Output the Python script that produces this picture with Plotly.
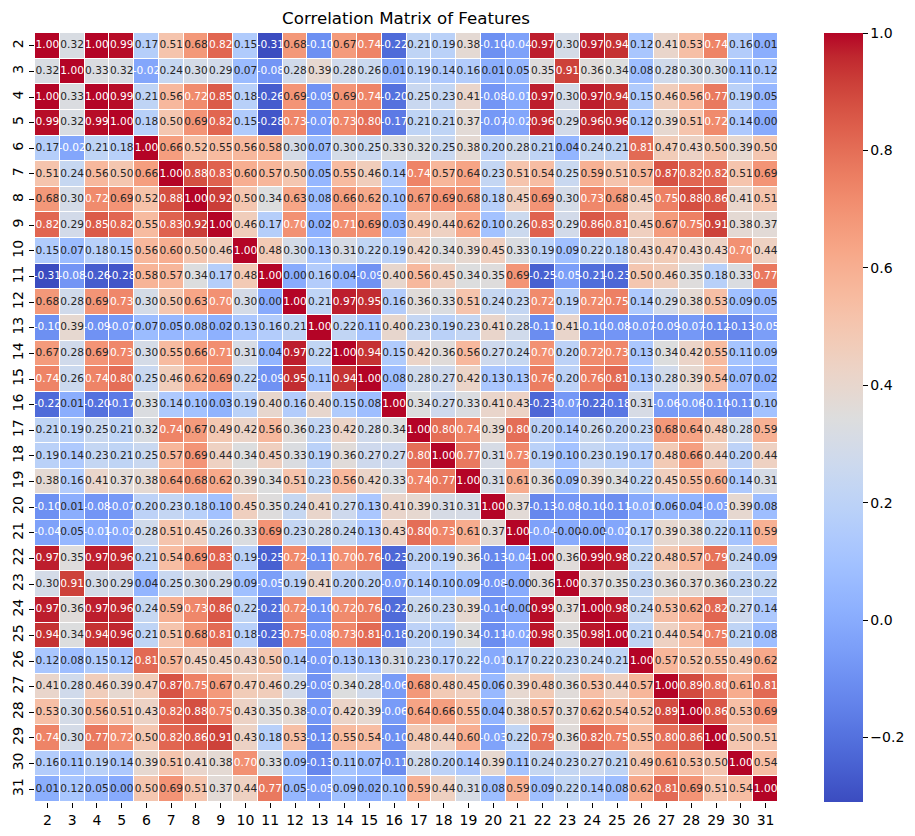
import plotly.graph_objects as go

# Feature ids on both axes
features = [str(i) for i in range(2, 32)]
cbar_ticks = [-0.2, 0.0, 0.2, 0.4, 0.6, 0.8, 1.0]

# Upper triangle of the correlation matrix, one row per feature, starting at the diagonal
upper_rows = [
    [1.00, 0.32, 1.00, 0.99, 0.17, 0.51, 0.68, 0.82, 0.15, -0.31, 0.68, -0.10, 0.67, 0.74, -0.22, 0.21, 0.19, 0.38, -0.10, -0.04, 0.97, 0.30, 0.97, 0.94, 0.12, 0.41, 0.53, 0.74, 0.16, 0.01],
    [1.00, 0.33, 0.32, -0.02, 0.24, 0.30, 0.29, 0.07, -0.08, 0.28, 0.39, 0.28, 0.26, 0.01, 0.19, 0.14, 0.16, 0.01, 0.05, 0.35, 0.91, 0.36, 0.34, 0.08, 0.28, 0.30, 0.30, 0.11, 0.12],
    [1.00, 0.99, 0.21, 0.56, 0.72, 0.85, 0.18, -0.26, 0.69, -0.09, 0.69, 0.74, -0.20, 0.25, 0.23, 0.41, -0.08, -0.01, 0.97, 0.30, 0.97, 0.94, 0.15, 0.46, 0.56, 0.77, 0.19, 0.05],
    [1.00, 0.18, 0.50, 0.69, 0.82, 0.15, -0.28, 0.73, -0.07, 0.73, 0.80, -0.17, 0.21, 0.21, 0.37, -0.07, -0.02, 0.96, 0.29, 0.96, 0.96, 0.12, 0.39, 0.51, 0.72, 0.14, 0.00],
    [1.00, 0.66, 0.52, 0.55, 0.56, 0.58, 0.30, 0.07, 0.30, 0.25, 0.33, 0.32, 0.25, 0.38, 0.20, 0.28, 0.21, 0.04, 0.24, 0.21, 0.81, 0.47, 0.43, 0.50, 0.39, 0.50],
    [1.00, 0.88, 0.83, 0.60, 0.57, 0.50, 0.05, 0.55, 0.46, 0.14, 0.74, 0.57, 0.64, 0.23, 0.51, 0.54, 0.25, 0.59, 0.51, 0.57, 0.87, 0.82, 0.82, 0.51, 0.69],
    [1.00, 0.92, 0.50, 0.34, 0.63, 0.08, 0.66, 0.62, 0.10, 0.67, 0.69, 0.68, 0.18, 0.45, 0.69, 0.30, 0.73, 0.68, 0.45, 0.75, 0.88, 0.86, 0.41, 0.51],
    [1.00, 0.46, 0.17, 0.70, 0.02, 0.71, 0.69, 0.03, 0.49, 0.44, 0.62, 0.10, 0.26, 0.83, 0.29, 0.86, 0.81, 0.45, 0.67, 0.75, 0.91, 0.38, 0.37],
    [1.00, 0.48, 0.30, 0.13, 0.31, 0.22, 0.19, 0.42, 0.34, 0.39, 0.45, 0.33, 0.19, 0.09, 0.22, 0.18, 0.43, 0.47, 0.43, 0.43, 0.70, 0.44],
    [1.00, 0.00, 0.16, 0.04, -0.09, 0.40, 0.56, 0.45, 0.34, 0.35, 0.69, -0.25, -0.05, -0.21, -0.23, 0.50, 0.46, 0.35, 0.18, 0.33, 0.77],
    [1.00, 0.21, 0.97, 0.95, 0.16, 0.36, 0.33, 0.51, 0.24, 0.23, 0.72, 0.19, 0.72, 0.75, 0.14, 0.29, 0.38, 0.53, 0.09, 0.05],
    [1.00, 0.22, 0.11, 0.40, 0.23, 0.19, 0.23, 0.41, 0.28, -0.11, 0.41, -0.10, -0.08, -0.07, -0.09, -0.07, -0.12, -0.13, -0.05],
    [1.00, 0.94, 0.15, 0.42, 0.36, 0.56, 0.27, 0.24, 0.70, 0.20, 0.72, 0.73, 0.13, 0.34, 0.42, 0.55, 0.11, 0.09],
    [1.00, 0.08, 0.28, 0.27, 0.42, 0.13, 0.13, 0.76, 0.20, 0.76, 0.81, 0.13, 0.28, 0.39, 0.54, 0.07, 0.02],
    [1.00, 0.34, 0.27, 0.33, 0.41, 0.43, -0.23, -0.07, -0.22, -0.18, 0.31, -0.06, -0.06, -0.10, -0.11, 0.10],
    [1.00, 0.80, 0.74, 0.39, 0.80, 0.20, 0.14, 0.26, 0.20, 0.23, 0.68, 0.64, 0.48, 0.28, 0.59],
    [1.00, 0.77, 0.31, 0.73, 0.19, 0.10, 0.23, 0.19, 0.17, 0.48, 0.66, 0.44, 0.20, 0.44],
    [1.00, 0.31, 0.61, 0.36, 0.09, 0.39, 0.34, 0.22, 0.45, 0.55, 0.60, 0.14, 0.31],
    [1.00, 0.37, -0.13, -0.08, -0.10, -0.11, -0.01, 0.06, 0.04, -0.03, 0.39, 0.08],
    [1.00, -0.04, -0.001, -0.001, -0.02, 0.17, 0.39, 0.38, 0.22, 0.11, 0.59],
    [1.00, 0.36, 0.99, 0.98, 0.22, 0.48, 0.57, 0.79, 0.24, 0.09],
    [1.00, 0.37, 0.35, 0.23, 0.36, 0.37, 0.36, 0.23, 0.22],
    [1.00, 0.98, 0.24, 0.53, 0.62, 0.82, 0.27, 0.14],
    [1.00, 0.21, 0.44, 0.54, 0.75, 0.21, 0.08],
    [1.00, 0.57, 0.52, 0.55, 0.49, 0.62],
    [1.00, 0.89, 0.80, 0.61, 0.81],
    [1.00, 0.86, 0.53, 0.69],
    [1.00, 0.50, 0.51],
    [1.00, 0.54],
    [1.00],
]

# matplotlib coolwarm
coolwarm = [
    (59, 76, 192), (68, 90, 204), (77, 104, 215), (87, 117, 225), (98, 130, 234),
    (108, 142, 241), (119, 154, 247), (130, 165, 251), (141, 176, 254), (152, 185, 255),
    (163, 194, 255), (174, 201, 253), (184, 208, 249), (194, 213, 244), (204, 217, 238),
    (213, 219, 230), (221, 221, 221), (229, 216, 209), (236, 211, 198), (241, 204, 185),
    (245, 196, 173), (247, 187, 160), (247, 177, 148), (247, 166, 135), (244, 154, 123),
    (241, 141, 111), (236, 127, 99), (229, 112, 88), (222, 96, 77), (213, 80, 66),
    (203, 62, 56), (192, 40, 47), (180, 4, 38),
]
colorscale = [[i / (len(coolwarm) - 1), f'rgb{c}'] for i, c in enumerate(coolwarm)]

# Mirror the triangle into the full matrix
n = len(features)
corr = [[0.0] * n for _ in range(n)]
for i, row in enumerate(upper_rows):
    for k, val in enumerate(row):
        corr[i][i + k] = val
        corr[i + k][i] = val

# Cell labels, white on the dark cells like seaborn does
label_x, label_y, label_text, label_color = [], [], [], []
for i in range(n):
    for j in range(n):
        val = corr[i][j]
        label_x.append(features[j])
        label_y.append(features[i])
        label_text.append(f'{val:.2f}')
        label_color.append('white' if val >= 0.695 or val < -0.005 else '#262626')

fig = go.Figure()
fig.add_trace(go.Heatmap(
    z=corr,
    x=features,
    y=features,
    zmin=-0.31,
    zmax=1.0,
    colorscale=colorscale,
    xgap=1,
    ygap=1,
    colorbar=dict(
        thickness=39,
        len=1,
        x=1.0619,
        xanchor='left',
        xpad=0,
        ypad=0,
        y=0.5,
        yanchor='middle',
        outlinewidth=0,
        tickvals=cbar_ticks,
        ticktext=['\u22120.2', '0.0', '0.2', '0.4', '0.6', '0.8', '1.0'],
        ticks='outside',
        ticklen=5,
        tickcolor='#000000',
        tickfont=dict(size=14, color='#000000'),
    ),
))
fig.add_trace(go.Scatter(
    x=label_x,
    y=label_y,
    mode='text',
    text=label_text,
    textfont=dict(family='DejaVu Sans', size=10.6, color=label_color),
    textposition='middle center',
    showlegend=False,
    hoverinfo='skip',
))

# The page body adds 8px around the figure, so the sizes here are 8px short of the window
fig.update_layout(
    width=907,
    height=828,
    autosize=False,
    font=dict(family='DejaVu Sans', size=14, color='#000000'),
    plot_bgcolor='white',
    paper_bgcolor='white',
    title=dict(
        text='Correlation Matrix of Features',
        font=dict(size=16.67, family='DejaVu Sans', color='#000000'),
        x=398 / 907,
        xanchor='center',
        y=1 - 10 / 828,
        yanchor='middle',
    ),
    margin=dict(l=26.5, r=137, t=25, b=34, autoexpand=False),
)
fig.update_xaxes(
    type='category',
    range=[-0.5, n - 0.5],
    automargin=False,
    showgrid=False,
    zeroline=False,
    ticks='outside',
    ticklen=5,
    tickcolor='#000000',
    tickfont=dict(size=14, color='#000000'),
    tickangle=0,
)
fig.update_yaxes(
    type='category',
    range=[n - 0.5, -0.5],
    automargin=False,
    showgrid=False,
    zeroline=False,
    ticks='outside',
    ticklen=5,
    tickcolor='#000000',
    tickfont=dict(size=14, color='#000000'),
    tickangle=-90,
)

fig.write_html("out.html")
